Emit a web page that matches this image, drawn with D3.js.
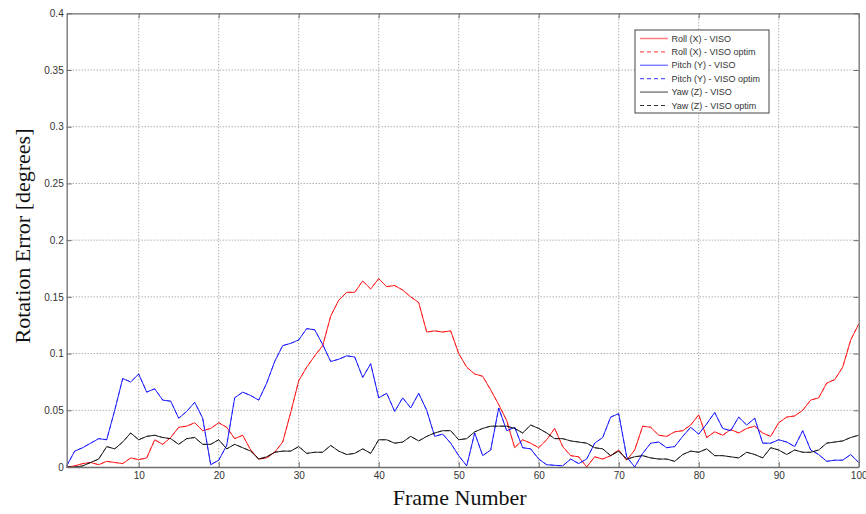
<!DOCTYPE html>
<html>
<head>
<meta charset="utf-8">
<script src="https://cdn.jsdelivr.net/npm/d3@7"></script>
<style>
  body { margin: 0; background: #fff; }
  svg { display: block; }
  .tick text { font-family: "Liberation Sans", Arial, sans-serif; font-size: 10px; fill: #333; }
  .label { font-family: "Liberation Serif", "Times New Roman", serif; font-size: 22px; fill: #111; }
  .legend text { font-family: "Liberation Sans", Arial, sans-serif; font-size: 9px; fill: #333; }
</style>
</head>
<body>
<svg id="chart"></svg>
<script>
// frame numbers 1..100
const frames = d3.range(1, 101);

const xTicks = [10, 20, 30, 40, 50, 60, 70, 80, 90, 100];
const yTicks = [0, 0.05, 0.1, 0.15, 0.2, 0.25, 0.3, 0.35, 0.4];

// values
const roll = [
  0.000, 0.001, 0.003, 0.004, 0.002, 0.005, 0.004, 0.003, 0.008, 0.0065,
  0.008, 0.024, 0.020, 0.026, 0.035, 0.036, 0.039, 0.032, 0.034, 0.039,
  0.035, 0.025, 0.028, 0.015, 0.007, 0.008, 0.013, 0.022, 0.048, 0.076,
  0.088, 0.098, 0.107, 0.133, 0.147, 0.154, 0.154, 0.164, 0.157, 0.166,
  0.159, 0.160, 0.156, 0.150, 0.145, 0.119, 0.120, 0.119, 0.120, 0.100,
  0.088, 0.082, 0.080, 0.068, 0.055, 0.041, 0.017, 0.024, 0.021, 0.017,
  0.024, 0.034, 0.018, 0.010, 0.009, 0.000, 0.009, 0.007, 0.010, 0.015,
  0.006, 0.015, 0.036, 0.035, 0.028, 0.027, 0.031, 0.032, 0.037, 0.046,
  0.026, 0.031, 0.028, 0.033, 0.030, 0.034, 0.036, 0.030, 0.027, 0.039,
  0.044, 0.045, 0.050, 0.059, 0.061, 0.074, 0.077, 0.088, 0.112, 0.126,
];

const pitch = [
  0.001, 0.014, 0.017, 0.021, 0.025, 0.024, 0.050, 0.078, 0.075, 0.082,
  0.066, 0.069, 0.059, 0.058, 0.043, 0.049, 0.057, 0.043, 0.002, 0.006,
  0.019, 0.061, 0.066, 0.063, 0.059, 0.074, 0.093, 0.107, 0.109, 0.112,
  0.122, 0.121, 0.108, 0.093, 0.095, 0.098, 0.097, 0.079, 0.091, 0.061,
  0.065, 0.049, 0.061, 0.052, 0.065, 0.050, 0.027, 0.029, 0.021, 0.010,
  0.001, 0.030, 0.010, 0.015, 0.052, 0.032, 0.035, 0.017, 0.016, 0.007,
  0.002, 0.0015, 0.001, 0.007, 0.003, 0.007, 0.021, 0.026, 0.044, 0.047,
  0.009, 0.000, 0.012, 0.021, 0.022, 0.017, 0.018, 0.027, 0.035, 0.029,
  0.038, 0.048, 0.034, 0.032, 0.044, 0.037, 0.043, 0.021, 0.021, 0.024,
  0.022, 0.018, 0.032, 0.015, 0.011, 0.005, 0.006, 0.006, 0.011, 0.004,
];

const yaw = [
  0.000, 0.000, 0.001, 0.004, 0.007, 0.018, 0.016, 0.022, 0.030, 0.024,
  0.027, 0.028, 0.026, 0.025, 0.020, 0.025, 0.026, 0.020, 0.020, 0.024,
  0.016, 0.020, 0.017, 0.014, 0.007, 0.009, 0.013, 0.014, 0.014, 0.018,
  0.012, 0.013, 0.013, 0.019, 0.014, 0.011, 0.012, 0.016, 0.012, 0.024,
  0.024, 0.021, 0.022, 0.027, 0.023, 0.027, 0.030, 0.032, 0.032, 0.024,
  0.025, 0.031, 0.034, 0.036, 0.036, 0.036, 0.034, 0.030, 0.037, 0.034,
  0.030, 0.025, 0.025, 0.023, 0.022, 0.021, 0.017, 0.016, 0.010, 0.014,
  0.007, 0.009, 0.010, 0.008, 0.007, 0.007, 0.005, 0.011, 0.014, 0.013,
  0.016, 0.010, 0.010, 0.009, 0.008, 0.013, 0.011, 0.008, 0.017, 0.015,
  0.011, 0.015, 0.013, 0.013, 0.015, 0.021, 0.022, 0.023, 0.026, 0.028,
];

// the "optim" runs lie on top of the plain runs in the picture
const series = [
  { name: "Roll (X) - VISO", values: roll, color: "#ff0000", dash: null },
  { name: "Roll (X) - VISO optim", values: roll, color: "#ff0000", dash: "4,3" },
  { name: "Pitch (Y) - VISO", values: pitch, color: "#0000ff", dash: null },
  { name: "Pitch (Y) - VISO optim", values: pitch, color: "#0000ff", dash: "4,3" },
  { name: "Yaw (Z) - VISO", values: yaw, color: "#000000", dash: null },
  { name: "Yaw (Z) - VISO optim", values: yaw, color: "#000000", dash: "4,3" },
];

class LineChart {
  margin = { top: 13.3, right: 7.3, bottom: 47, left: 66.7 };

  constructor(svg, width = 866, height = 514) {
    this.svg = svg;
    this.outerWidth = width;
    this.outerHeight = height;
    this.width = width - this.margin.left - this.margin.right;
    this.height = height - this.margin.top - this.margin.bottom;
  }

  initialize() {
    this.svg = d3.select(this.svg)
      .attr("width", this.outerWidth)
      .attr("height", this.outerHeight);

    this.container = this.svg.append("g")
      .attr("transform", `translate(${this.margin.left}, ${this.margin.top})`);
    this.grid = this.container.append("g");
    this.lines = this.container.append("g");
    this.axes = this.container.append("g");
    this.legend = this.container.append("g").attr("class", "legend");

    this.xScale = d3.scaleLinear().domain([1, 100]).range([0, this.width]);
    this.yScale = d3.scaleLinear().domain([0, 0.4]).range([this.height, 0]);
  }

  update() {
    const w = this.width, h = this.height;

    // dotted grid
    this.grid.selectAll(".gx")
      .data(xTicks.filter((t) => t < 100))
      .join("line")
      .attr("class", "gx")
      .attr("x1", (d) => this.xScale(d)).attr("x2", (d) => this.xScale(d))
      .attr("y1", 0).attr("y2", h)
      .attr("stroke", "#8a8a8a").attr("stroke-dasharray", "1,2");
    this.grid.selectAll(".gy")
      .data(yTicks.filter((t) => t > 0 && t < 0.4))
      .join("line")
      .attr("class", "gy")
      .attr("x1", 0).attr("x2", w)
      .attr("y1", (d) => this.yScale(d)).attr("y2", (d) => this.yScale(d))
      .attr("stroke", "#8a8a8a").attr("stroke-dasharray", "1,2");

    const line = d3.line()
      .x((d, i) => this.xScale(frames[i]))
      .y((d) => this.yScale(d));

    this.lines.selectAll("path")
      .data(series)
      .join("path")
      .attr("d", (d) => line(d.values))
      .attr("fill", "none")
      .attr("stroke", (d) => d.color)
      .attr("stroke-width", 1)
      .attr("stroke-dasharray", (d) => d.dash)
      .attr("stroke-opacity", (d) => (d.dash ? 0.55 : 0.85));

    // box axes, ticks pointing in
    const styleAxis = (g) => {
      g.select(".domain").attr("stroke", "#6e6e6e").attr("stroke-width", 1.3);
      g.selectAll(".tick line").attr("stroke", "#6e6e6e");
    };
    this.axes.append("g")
      .attr("transform", `translate(0, ${h})`)
      .call(d3.axisBottom(this.xScale).tickValues(xTicks).tickSizeInner(-5).tickSizeOuter(0).tickPadding(5).tickFormat(d3.format("d")))
      .call(styleAxis);
    this.axes.append("g")
      .call(d3.axisTop(this.xScale).tickValues(xTicks).tickSizeInner(-5).tickSizeOuter(0).tickFormat(""))
      .call(styleAxis);
    this.axes.append("g")
      .call(d3.axisLeft(this.yScale).tickValues(yTicks).tickSizeInner(-5).tickSizeOuter(0).tickPadding(3).tickFormat((d) => (d === 0 ? "0" : d3.format("")(+d.toFixed(2)))))
      .call(styleAxis);
    this.axes.append("g")
      .attr("transform", `translate(${w}, 0)`)
      .call(d3.axisRight(this.yScale).tickValues(yTicks).tickSizeInner(-5).tickSizeOuter(0).tickFormat(""))
      .call(styleAxis);
    this.axes.selectAll(".domain").attr("fill", "none");

    // labels
    this.svg.append("text")
      .attr("class", "label")
      .attr("x", this.margin.left + w / 2 - 3)
      .attr("y", 505)
      .attr("text-anchor", "middle")
      .text("Frame Number");
    this.svg.append("text")
      .attr("class", "label")
      .attr("transform", `translate(30, 236) rotate(-90)`)
      .attr("text-anchor", "middle")
      .text("Rotation Error [degrees]");

    // legend
    const lx = 635 - this.margin.left, ly = 30 - this.margin.top;
    this.legend.append("rect")
      .attr("x", lx).attr("y", ly)
      .attr("width", 134).attr("height", 83)
      .attr("fill", "#fff").attr("stroke", "#444");
    const rows = this.legend.selectAll(".row")
      .data(series)
      .join("g")
      .attr("class", "row")
      .attr("transform", (d, i) => `translate(${lx}, ${ly + 8.5 + i * 13.4})`);
    rows.append("line")
      .attr("x1", 5).attr("x2", 33)
      .attr("stroke", (d) => d.color)
      .attr("stroke-opacity", (d) => (d.dash ? 0.8 : 0.5))
      .attr("stroke-width", (d) => (d.dash ? 1 : 1.5))
      .attr("stroke-dasharray", (d) => d.dash);
    rows.append("text")
      .attr("x", 36.5).attr("dy", "0.35em")
      .text((d) => d.name);
  }
}

const chart = new LineChart(document.getElementById("chart"));
chart.initialize();
chart.update();
</script>
</body>
</html>
